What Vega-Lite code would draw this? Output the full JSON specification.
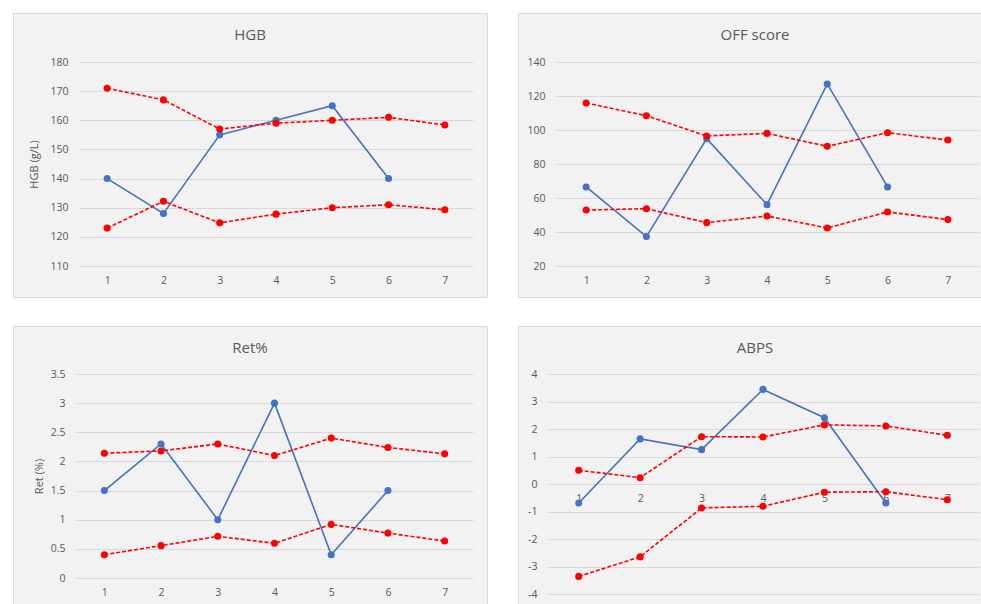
{
  "$schema": "https://vega.github.io/schema/vega-lite/v6.json",
  "background": "white",
  "padding": {"left": 12, "top": 12, "right": 0, "bottom": 0},
  "autosize": {"type": "pad"},
  "config": {
    "font": "Open Sans",
    "view": {"fill": "#f2f2f2", "stroke": "#d9d9d9", "strokeWidth": 1},
    "axis": {
      "domain": false, "ticks": false, "labelFont": "Open Sans", "labelFontSize": 10.5,
      "labelColor": "#595959", "titleFont": "Open Sans", "titleFontSize": 11, "titleColor": "#595959",
      "titleFontWeight": "normal", "gridColor": "#d9d9d9", "gridWidth": 1, "labelFlush": false, "labelOverlap": false
    },
    "title": {"font": "Open Sans", "fontSize": 15, "fontWeight": "normal", "color": "#595959", "anchor": "middle", "baseline": "middle", "frame": "group"},
    "line": {"strokeWidth": 1.6}
  },
  "datasets": {
    "rows": [
      {"p": "HGB", "v": 1, "s": "value", "y": 140}, {"p": "HGB", "v": 2, "s": "value", "y": 128}, {"p": "HGB", "v": 3, "s": "value", "y": 155}, {"p": "HGB", "v": 4, "s": "value", "y": 160}, {"p": "HGB", "v": 5, "s": "value", "y": 165}, {"p": "HGB", "v": 6, "s": "value", "y": 140},
      {"p": "HGB", "v": 1, "s": "upper", "y": 171}, {"p": "HGB", "v": 2, "s": "upper", "y": 167}, {"p": "HGB", "v": 3, "s": "upper", "y": 157}, {"p": "HGB", "v": 4, "s": "upper", "y": 159}, {"p": "HGB", "v": 5, "s": "upper", "y": 160}, {"p": "HGB", "v": 6, "s": "upper", "y": 161}, {"p": "HGB", "v": 7, "s": "upper", "y": 158.4},
      {"p": "HGB", "v": 1, "s": "lower", "y": 123}, {"p": "HGB", "v": 2, "s": "lower", "y": 132.2}, {"p": "HGB", "v": 3, "s": "lower", "y": 124.8}, {"p": "HGB", "v": 4, "s": "lower", "y": 127.8}, {"p": "HGB", "v": 5, "s": "lower", "y": 130}, {"p": "HGB", "v": 6, "s": "lower", "y": 131}, {"p": "HGB", "v": 7, "s": "lower", "y": 129.3},
      {"p": "OFF", "v": 1, "s": "value", "y": 66.5}, {"p": "OFF", "v": 2, "s": "value", "y": 37.3}, {"p": "OFF", "v": 3, "s": "value", "y": 94.9}, {"p": "OFF", "v": 4, "s": "value", "y": 56.1}, {"p": "OFF", "v": 5, "s": "value", "y": 127.1}, {"p": "OFF", "v": 6, "s": "value", "y": 66.5},
      {"p": "OFF", "v": 1, "s": "upper", "y": 115.9}, {"p": "OFF", "v": 2, "s": "upper", "y": 108.4}, {"p": "OFF", "v": 3, "s": "upper", "y": 96.5}, {"p": "OFF", "v": 4, "s": "upper", "y": 98}, {"p": "OFF", "v": 5, "s": "upper", "y": 90.4}, {"p": "OFF", "v": 6, "s": "upper", "y": 98.4}, {"p": "OFF", "v": 7, "s": "upper", "y": 94.1},
      {"p": "OFF", "v": 1, "s": "lower", "y": 52.9}, {"p": "OFF", "v": 2, "s": "lower", "y": 53.7}, {"p": "OFF", "v": 3, "s": "lower", "y": 45.5}, {"p": "OFF", "v": 4, "s": "lower", "y": 49.4}, {"p": "OFF", "v": 5, "s": "lower", "y": 42.4}, {"p": "OFF", "v": 6, "s": "lower", "y": 51.8}, {"p": "OFF", "v": 7, "s": "lower", "y": 47.3},
      {"p": "Ret", "v": 1, "s": "value", "y": 1.5}, {"p": "Ret", "v": 2, "s": "value", "y": 2.3}, {"p": "Ret", "v": 3, "s": "value", "y": 1.0}, {"p": "Ret", "v": 4, "s": "value", "y": 3.0}, {"p": "Ret", "v": 5, "s": "value", "y": 0.4}, {"p": "Ret", "v": 6, "s": "value", "y": 1.5},
      {"p": "Ret", "v": 1, "s": "upper", "y": 2.14}, {"p": "Ret", "v": 2, "s": "upper", "y": 2.18}, {"p": "Ret", "v": 3, "s": "upper", "y": 2.3}, {"p": "Ret", "v": 4, "s": "upper", "y": 2.1}, {"p": "Ret", "v": 5, "s": "upper", "y": 2.4}, {"p": "Ret", "v": 6, "s": "upper", "y": 2.24}, {"p": "Ret", "v": 7, "s": "upper", "y": 2.13},
      {"p": "Ret", "v": 1, "s": "lower", "y": 0.4}, {"p": "Ret", "v": 2, "s": "lower", "y": 0.555}, {"p": "Ret", "v": 3, "s": "lower", "y": 0.715}, {"p": "Ret", "v": 4, "s": "lower", "y": 0.595}, {"p": "Ret", "v": 5, "s": "lower", "y": 0.92}, {"p": "Ret", "v": 6, "s": "lower", "y": 0.77}, {"p": "Ret", "v": 7, "s": "lower", "y": 0.635},
      {"p": "ABPS", "v": 1, "s": "value", "y": -0.69}, {"p": "ABPS", "v": 2, "s": "value", "y": 1.64}, {"p": "ABPS", "v": 3, "s": "value", "y": 1.25}, {"p": "ABPS", "v": 4, "s": "value", "y": 3.44}, {"p": "ABPS", "v": 5, "s": "value", "y": 2.41}, {"p": "ABPS", "v": 6, "s": "value", "y": -0.69},
      {"p": "ABPS", "v": 1, "s": "upper", "y": 0.5}, {"p": "ABPS", "v": 2, "s": "upper", "y": 0.23}, {"p": "ABPS", "v": 3, "s": "upper", "y": 1.72}, {"p": "ABPS", "v": 4, "s": "upper", "y": 1.71}, {"p": "ABPS", "v": 5, "s": "upper", "y": 2.15}, {"p": "ABPS", "v": 6, "s": "upper", "y": 2.11}, {"p": "ABPS", "v": 7, "s": "upper", "y": 1.77},
      {"p": "ABPS", "v": 1, "s": "lower", "y": -3.36}, {"p": "ABPS", "v": 2, "s": "lower", "y": -2.65}, {"p": "ABPS", "v": 3, "s": "lower", "y": -0.87}, {"p": "ABPS", "v": 4, "s": "lower", "y": -0.81}, {"p": "ABPS", "v": 5, "s": "lower", "y": -0.3}, {"p": "ABPS", "v": 6, "s": "lower", "y": -0.28}, {"p": "ABPS", "v": 7, "s": "lower", "y": -0.57}
    ]
  },
  "spacing": 27,
  "vconcat": [
    {
      "spacing": 29,
      "hconcat": [
        {
          "width": 474, "height": 284,
          "data": {"name": "rows"},
          "title": {"text": "HGB", "offset": -30},
          "transform": [{"filter": "datum.p === 'HGB'"}],
          "encoding": {
            "x": {"field": "v", "type": "quantitative", "scale": {"domain": [0.5, 7.5], "range": [66, 460]}, "axis": {"values": [1, 2, 3, 4, 5, 6, 7], "grid": false, "title": null, "offset": -31, "labelPadding": 9}},
            "y": {"field": "y", "type": "quantitative", "scale": {"domain": [110, 180], "range": [253, 49], "nice": false, "zero": false}, "axis": {"values": [110, 120, 130, 140, 150, 160, 170, 180], "title": "HGB (g/L)", "offset": -66, "labelPadding": 11, "titlePadding": 10}}
          },
          "layer": [
            {"transform": [{"filter": "datum.s === 'value'"}], "mark": {"type": "line", "color": "#4472c4", "point": {"filled": true, "size": 50, "color": "#4472c4"}}},
            {"transform": [{"filter": "datum.s !== 'value'"}], "mark": {"type": "line", "color": "#ff0000", "strokeDash": [4, 2], "point": {"filled": true, "size": 50, "color": "#ff0000"}}, "encoding": {"detail": {"field": "s"}}}
          ]
        },
        {
          "width": 463, "height": 284,
          "data": {"name": "rows"},
          "title": {"text": "OFF score", "offset": -30, "dx": 5.5},
          "transform": [{"filter": "datum.p === 'OFF'"}],
          "encoding": {
            "x": {"field": "v", "type": "quantitative", "scale": {"domain": [0.5, 7.5], "range": [38, 460]}, "axis": {"values": [1, 2, 3, 4, 5, 6, 7], "grid": false, "title": null, "offset": -31, "labelPadding": 9}},
            "y": {"field": "y", "type": "quantitative", "scale": {"domain": [20, 140], "range": [253, 49], "nice": false, "zero": false}, "axis": {"values": [20, 40, 60, 80, 100, 120, 140], "title": null, "offset": -38, "labelPadding": 11}}
          },
          "layer": [
            {"transform": [{"filter": "datum.s === 'value'"}], "mark": {"type": "line", "color": "#4472c4", "point": {"filled": true, "size": 50, "color": "#4472c4"}}},
            {"transform": [{"filter": "datum.s !== 'value'"}], "mark": {"type": "line", "color": "#ff0000", "strokeDash": [4, 2], "point": {"filled": true, "size": 50, "color": "#ff0000"}}, "encoding": {"detail": {"field": "s"}}}
          ]
        }
      ]
    },
    {
      "spacing": 29,
      "hconcat": [
        {
          "width": 474, "height": 278,
          "data": {"name": "rows"},
          "title": {"text": "Ret%", "offset": -30},
          "transform": [{"filter": "datum.p === 'Ret'"}],
          "encoding": {
            "x": {"field": "v", "type": "quantitative", "scale": {"domain": [0.5, 7.5], "range": [63, 460]}, "axis": {"values": [1, 2, 3, 4, 5, 6, 7], "grid": false, "title": null, "offset": -26, "labelPadding": 9}},
            "y": {"field": "y", "type": "quantitative", "scale": {"domain": [0, 3.5], "range": [252, 48], "nice": false, "zero": false}, "axis": {"values": [0, 0.5, 1, 1.5, 2, 2.5, 3, 3.5], "labelExpr": "toString(datum.value)", "title": "Ret (%)", "offset": -63, "labelPadding": 11, "titlePadding": 6}}
          },
          "layer": [
            {"transform": [{"filter": "datum.s === 'value'"}], "mark": {"type": "line", "color": "#4472c4", "point": {"filled": true, "size": 50, "color": "#4472c4"}}},
            {"transform": [{"filter": "datum.s !== 'value'"}], "mark": {"type": "line", "color": "#ff0000", "strokeDash": [4, 2], "point": {"filled": true, "size": 50, "color": "#ff0000"}}, "encoding": {"detail": {"field": "s"}}}
          ]
        },
        {
          "width": 463, "height": 278,
          "data": {"name": "rows"},
          "title": {"text": "ABPS", "offset": -30, "dx": 5.5},
          "transform": [{"filter": "datum.p === 'ABPS'"}],
          "encoding": {
            "x": {"field": "v", "type": "quantitative", "scale": {"domain": [0.5, 7.5], "range": [30, 460]}, "axis": {"values": [1, 2, 3, 4, 5, 6, 7], "grid": false, "title": null, "offset": -120, "labelPadding": 9}},
            "y": {"field": "y", "type": "quantitative", "scale": {"domain": [-4, 4], "range": [268, 48], "nice": false, "zero": false}, "axis": {"values": [-4, -3, -2, -1, 0, 1, 2, 3, 4], "labelExpr": "toString(datum.value)", "title": null, "offset": -30, "labelPadding": 11}}
          },
          "layer": [
            {"transform": [{"filter": "datum.s === 'value'"}], "mark": {"type": "line", "color": "#4472c4", "point": {"filled": true, "size": 50, "color": "#4472c4"}}},
            {"transform": [{"filter": "datum.s !== 'value'"}], "mark": {"type": "line", "color": "#ff0000", "strokeDash": [4, 2], "point": {"filled": true, "size": 50, "color": "#ff0000"}}, "encoding": {"detail": {"field": "s"}}}
          ]
        }
      ]
    }
  ]
}
